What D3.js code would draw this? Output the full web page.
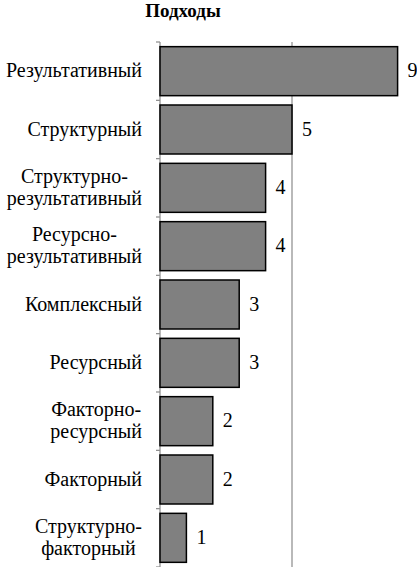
<!DOCTYPE html>
<html>
<head>
<meta charset="utf-8">
<script src="https://cdn.jsdelivr.net/npm/d3@7"></script>
<style>
	body { margin: 0; background: #fff; }
</style>
</head>
<body>
<div id="chart"></div>
<script>
let width = 417,
	height = 567;

// data
let categories = [
	["Результативный"],
	["Структурный"],
	["Структурно-", "результативный"],
	["Ресурсно-", "результативный"],
	["Комплексный"],
	["Ресурсный"],
	["Факторно-", "ресурсный"],
	["Факторный"],
	["Структурно-", "факторный"]
];
let values = [9, 5, 4, 4, 3, 3, 2, 2, 1];
let xTicks = [0, 5, 10];
let title = "Подходы";

let font = "'Liberation Serif', 'Times New Roman', serif";

let svg = d3.select('#chart').append('svg')
	.attr('width', width)
	.attr('height', height)
	.style('display', 'block')
	.style('font-family', font);

let x = d3.scaleLinear()
	.domain([0, 10])
	.range([160, 424]);

let y = d3.scaleBand()
	.domain(d3.range(values.length))
	.range([42, 567])
	.paddingInner(0.16)
	.paddingOuter(0.08);

// step boundaries for tick marks
let step = y.step();
let y0 = 42;

// gridlines
svg.selectAll('.grid')
	.data(xTicks)
	.enter().append('line').classed('grid', true)
	.attr('x1', d => x(d))
	.attr('x2', d => x(d))
	.attr('y1', y0)
	.attr('y2', height)
	.attr('stroke', '#8a8a8a')
	.attr('stroke-width', 1.2);

// category tick marks
svg.selectAll('.ytick')
	.data(d3.range(values.length + 1))
	.enter().append('line').classed('ytick', true)
	.attr('x1', x(0) - 4)
	.attr('x2', x(0))
	.attr('y1', d => y0 + d * step)
	.attr('y2', d => y0 + d * step)
	.attr('stroke', '#8a8a8a')
	.attr('stroke-width', 1.2);

// bars
svg.selectAll('.bar')
	.data(values)
	.enter().append('rect').classed('bar', true)
	.attr('x', x(0))
	.attr('y', (d, i) => y(i))
	.attr('width', d => x(d) - x(0))
	.attr('height', y.bandwidth())
	.attr('fill', '#808080')
	.attr('stroke', '#000')
	.attr('stroke-width', 1.5);

let fs = 20, lh = 22, right = 142;

// value labels
svg.selectAll('.val')
	.data(values)
	.enter().append('text').classed('val', true)
	.attr('x', d => x(d) + 10)
	.attr('y', (d, i) => y(i) + y.bandwidth() / 2 + 6)
	.style('font-family', font)
	.attr('font-size', fs)
	.text(d => d);

// category labels, centred lines in a block that is right-aligned
categories.forEach(function (lines, i) {
	let g = svg.append('g');
	let cy = y(i) + y.bandwidth() / 2 + 6;
	let texts = lines.map(function (t, k) {
		return g.append('text')
			.style('font-family', font)
			.attr('font-size', fs)
			.attr('y', cy + (k - (lines.length - 1) / 2) * lh)
			.attr('text-anchor', 'middle')
			.text(t);
	});
	let w = d3.max(texts, t => t.node().getComputedTextLength());
	texts.forEach(t => t.attr('x', right - w / 2));
});

// title
svg.append('text')
	.attr('x', 183)
	.attr('y', 17)
	.attr('text-anchor', 'middle')
	.style('font-family', font)
	.attr('font-size', 19)
	.attr('font-weight', 'bold')
	.text(title);
</script>
</body>
</html>
